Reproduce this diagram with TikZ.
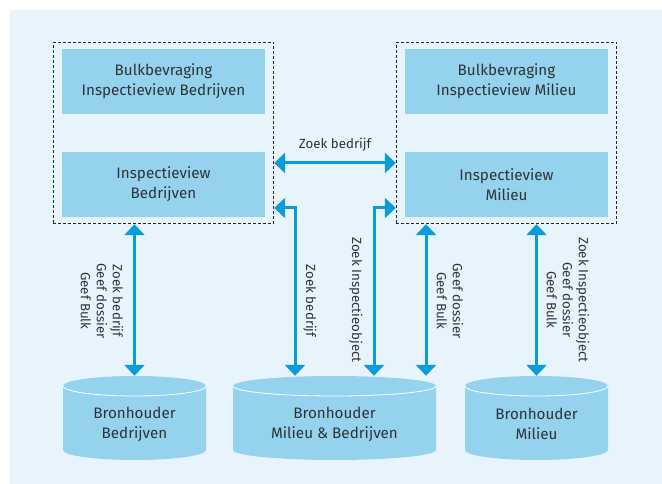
\documentclass[tikz,border=0pt]{standalone}
\usepackage{fontspec}
\setmainfont{Fira Sans}
\usetikzlibrary{arrows.meta,fit,calc}
\definecolor{bg}{HTML}{E8F4FB}
\definecolor{boxc}{HTML}{94D2EE}
\definecolor{arrc}{HTML}{0A9BDB}
\definecolor{txt}{HTML}{2E3338}
\tikzset{
  box/.style={fill=boxc, minimum width=203pt, minimum height=65pt, inner sep=0pt, align=center, text=txt, font=\fontsize{15.2}{20}\selectfont},
  grp/.style={draw=black!85, dash pattern=on 3pt off 2pt, line width=1pt, inner xsep=8.5pt, inner ysep=6.5pt},
  dbl/.style={draw=arrc, line width=3pt, {Triangle[width=20pt,length=11pt]}-{Triangle[width=20pt,length=11pt]}},
  lbl/.style={text=txt, align=center, inner sep=0pt, font=\fontsize{13.3}{16}\selectfont},
  vlbl/.style={lbl, rotate=-90},
  cylnode/.style={inner sep=0pt, minimum height=84pt}
}
\newcommand\drawcyl[4]{%
  \fill[boxc] ({#2-#3},386) -- ({#2-#3},450) arc[start angle=180,end angle=360,x radius=#3pt,y radius=10pt] -- ({#2+#3},386) arc[start angle=0,end angle=180,x radius=#3pt,y radius=10pt] -- cycle;
  \draw[white,line width=0.8pt] ({#2-#3},386) arc[start angle=180,end angle=360,x radius=#3pt,y radius=10pt];
  \node[cylnode, minimum width={2*#3}] (#1) at (#2,418) {};
  \node[lbl, font=\fontsize{15.2}{20}\selectfont] (#1t) at (#2,424) {#4};
}
\begin{document}
\begin{tikzpicture}[x=1pt,y=-1pt]
\useasboundingbox (0,0) rectangle (662,484);
\fill[bg] (10,10) rectangle (662,484);

\node[box] (bL) at (163.5,81.5) {Bulkbevraging\\Inspectieview Bedrijven};
\node[box] (iL) at (163.5,184.5) {Inspectieview\\Bedrijven};
\node[box] (bR) at (506.5,81.5) {Bulkbevraging\\Inspectieview Milieu};
\node[box] (iR) at (506.5,184.5) {Inspectieview\\Milieu};
\node[grp, fit=(bL)(iL)] (gL) {};
\node[grp, fit=(bR)(iR)] (gR) {};

\drawcyl{cL}{134.5}{71.5}{Bronhouder\\Bedrijven}
\drawcyl{cM}{334.5}{101.5}{Bronhouder\\Milieu \& Bedrijven}
\drawcyl{cR}{536.5}{71.5}{Bronhouder\\Milieu}

\draw[dbl] (cL.north) -- (cL.north |- gL.south);
\draw[dbl] ([yshift=-30pt]gL.east) -- ([yshift=-30pt]gR.west);
\draw[dbl] ([yshift=-75pt]gL.east) -| ([xshift=-39.5pt]cM.north);
\draw[dbl] ([yshift=-75pt]gR.west) -| ([xshift=39.5pt]cM.north);
\draw[dbl] ([xshift=91.5pt]cM.north) -- ([xshift=91.5pt]cM.north |- gR.south);
\draw[dbl] (cR.north) -- (cR.north |- gR.south);

\node[lbl] (lz) at (335,145) {Zoek bedrijf};
\node[vlbl] (l1) at (102,301) {Zoek bedrijf\\Geef dossier\\Geef Bulk};
\node[vlbl] (l2) at (310,301) {Zoek bedrijf};
\node[vlbl] (l3) at (356,300) {Zoek Inspectieobject};
\node[vlbl] (l4) at (450,301) {Geef dossier\\Geef Bulk};
\node[vlbl] (l5) at (568,300) {Zoek Inspectieobject\\Geef dossier\\Geef Bulk};
\end{tikzpicture}
\end{document}
